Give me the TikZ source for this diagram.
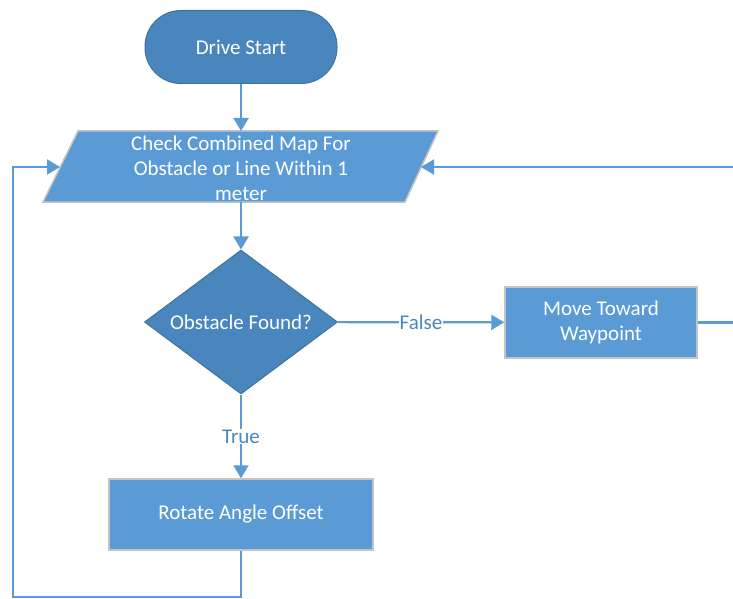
\documentclass[tikz,border=0pt]{standalone}
\usepackage{fontspec}
\setmainfont{Carlito}
\usetikzlibrary{shapes.geometric,arrows.meta}
\definecolor{lb}{HTML}{5B9BD5}
\definecolor{db}{HTML}{4A86BE}
\definecolor{dbb}{HTML}{41719C}
\definecolor{gb}{HTML}{C4C4C4}
\begin{document}
\begin{tikzpicture}[x=1pt,y=-1pt,
  conn/.style={draw=lb, line width=2.2pt},
  arr/.style={conn, -{Triangle[length=13pt,width=15pt]}},
  txt/.style={text=white, font=\fontsize{21}{25}\selectfont, align=center},
  term/.style={txt, fill=db, draw=dbb, line width=1pt, rounded corners=36pt, inner sep=0pt},
  boxlight/.style={txt, fill=lb, draw=gb, line width=1.5pt, inner sep=0pt},
  decis/.style={txt, diamond, fill=db, draw=dbb, line width=1pt, inner sep=0pt, shape aspect=1.34},
  lab/.style={fill=white, text=db, font=\fontsize{21}{25}\selectfont, inner sep=1pt}]
\useasboundingbox (0,0) rectangle (733,599);
\fill[white] (0,0) rectangle (733,599);

\node[term, minimum width=192pt, minimum height=73pt] (start) at (241,47) {Drive Start};

\draw[draw=gb, fill=lb, line width=1.5pt] (78,131) -- (438,131) -- (405,202) -- (43,202) -- cycle;
\node[txt] (check) at (241,168) {Check Combined Map For\\Obstacle or Line Within 1\\meter};
\coordinate (checkT) at (241,131);
\coordinate (checkB) at (241,202);
\coordinate (checkL) at (60,167);
\coordinate (checkR) at (421,167);

\node[decis, minimum width=193pt, minimum height=144pt] (dec) at (241,322) {Obstacle Found?};
\node[boxlight, minimum width=192pt, minimum height=71pt] (move) at (601,322.5) {Move Toward\\Waypoint};
\node[boxlight, minimum width=264pt, minimum height=71pt] (rot) at (241,514.5) {Rotate Angle Offset};

\coordinate (rr) at (734,322.5);
\coordinate (bl) at (13,597);

\draw[arr] (start) -- (checkT);
\draw[arr] (checkB) -- (dec);
\draw[arr] (dec) -- node[lab] {False} (move);
\draw[arr] (dec) -- node[lab] {True} (rot);
\draw[arr] (move) -- (rr) |- (checkR);
\draw[arr] (rot) |- (bl) |- (checkL);
\end{tikzpicture}
\end{document}
